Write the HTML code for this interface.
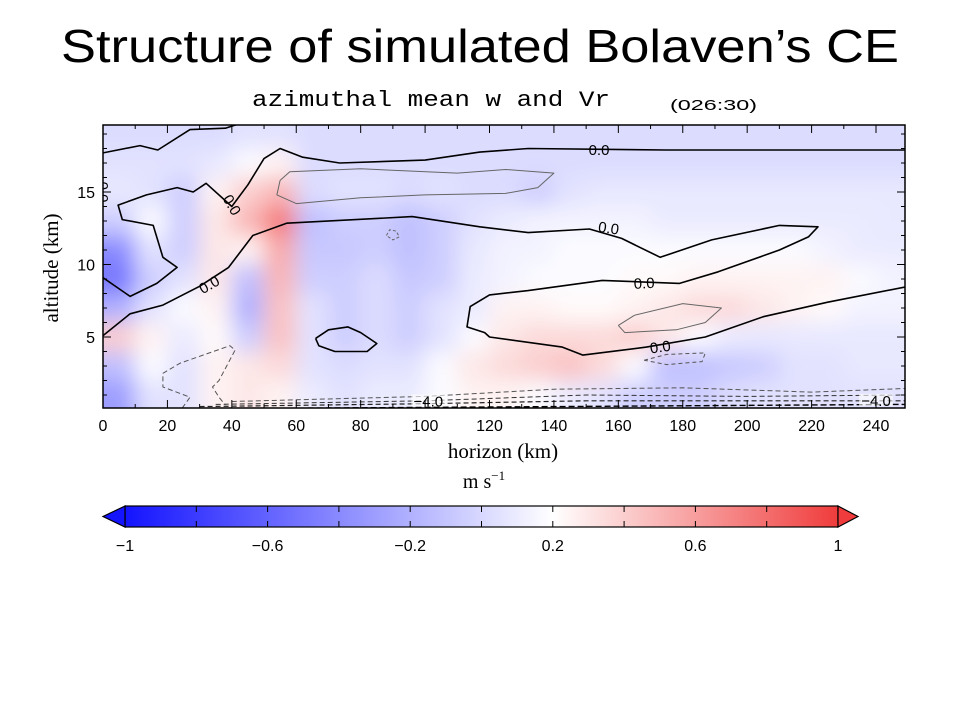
<!DOCTYPE html>
<html><head><meta charset="utf-8"><style>
html,body{margin:0;padding:0;background:#fff;}
svg{display:block;}
.tk{font-family:"Liberation Sans",sans-serif;font-size:16px;fill:#000;}
.lab{font-family:"Liberation Serif",serif;fill:#000;}
.cl{font-family:"Liberation Sans",sans-serif;font-size:15px;fill:#000;}
</style></head><body>
<svg id="root" width="960" height="720" viewBox="0 0 960 720">
<text x="480" y="62" text-anchor="middle" font-family="Liberation Sans, sans-serif" font-size="46" textLength="838" lengthAdjust="spacingAndGlyphs">Structure of simulated Bolaven’s CE</text>
<text x="252" y="106" font-family="Liberation Mono, monospace" font-size="22" textLength="358" lengthAdjust="spacingAndGlyphs">azimuthal mean w and Vr</text>
<text x="670" y="110" font-family="Liberation Sans, sans-serif" font-size="15" textLength="87" lengthAdjust="spacingAndGlyphs">(026:30)</text>
<defs>
<clipPath id="pc"><rect x="103" y="125" width="802" height="283"/></clipPath>
<filter id="bl" x="-20%" y="-20%" width="140%" height="140%"><feGaussianBlur stdDeviation="11"/></filter>
<linearGradient id="cg" x1="0" x2="1" y1="0" y2="0">
<stop offset="0" stop-color="rgb(20,20,255)"/>
<stop offset="0.6" stop-color="rgb(255,255,255)"/>
<stop offset="1" stop-color="rgb(240,60,60)"/>
</linearGradient>
</defs>
<g id="heat" clip-path="url(#pc)"></g>
<g id="contours" clip-path="url(#pc)"></g>
<rect x="103" y="125" width="802" height="283" fill="none" stroke="#000" stroke-width="1.5"/>
<g id="axes"></g>
<text class="lab" x="0" y="0" font-size="21" text-anchor="middle" transform="translate(58,268) rotate(-90)">altitude (km)</text>
<text class="lab" x="503" y="458" font-size="21" text-anchor="middle">horizon (km)</text>
<text class="lab" x="484" y="488" font-size="20" text-anchor="middle">m s<tspan font-size="13" dy="-8">−1</tspan></text>
<g id="cbar"></g>
</svg>
<script>
var xTicks=[0,20,40,60,80,100,120,140,160,180,200,220,240];
var yTicks=[5,10,15];
var cbTicks=[-1,-0.6,-0.2,0.2,0.6,1];
var cbTickLabels=["−1","−0.6","−0.2","0.2","0.6","1"];
var colStarts=[0,10,20,30,40,50,60,70,80,90,100,110,120,130,140,150,160,170,180,190,200,210,220,230,240];
var rowTops=[20,18,16,14,12,10,8,6,4,2];
var w0=[0.02,0.02,0.02,0.02,0.05,0.05,0.02,0.02,0.02,0.02,0.02,0.02,0.02,0.02,0.02,0.02,0.02,0.02,0.02,0.02,0.02,0.02,0.02,0.02,0.02];
var w1=[0.05,0.05,0.05,0.08,0.18,0.25,0.02,0.02,0.02,0.02,0.02,0.02,0.02,0.02,0.02,0.02,0.02,0.02,0.02,0.02,0.02,0.02,0.02,0.02,0.02];
var w2=[0.08,0.05,-0.05,0.25,0.4,0.5,0.02,0.05,0.05,0.02,0.05,0.02,0.02,-0.05,0.05,0.08,0.08,0.08,0.08,0.08,0.08,0.08,0.08,0.08,0.08];
var w3=[-0.05,0.18,-0.05,0.3,0.5,0.75,-0.12,-0.05,-0.05,-0.12,-0.05,0.05,0.1,0.14,0.14,0.14,0.14,0.1,0.1,0.1,0.1,0.1,0.1,0.1,0.08];
var w4=[-0.4,0.05,-0.05,0.3,0.25,0.55,-0.08,-0.08,-0.05,-0.12,-0.05,0.08,0.14,0.14,0.18,0.18,0.18,0.18,0.18,0.18,0.18,0.18,0.14,0.1,0.1];
var w5=[-0.5,-0.05,0.05,0.3,-0.12,0.5,-0.05,-0.05,0.02,-0.08,-0.05,0.1,0.14,0.18,0.18,0.18,0.22,0.22,0.25,0.25,0.25,0.25,0.25,0.18,0.14];
var w6=[-0.2,0.05,0.18,0.25,-0.2,0.45,0.05,-0.05,0.02,-0.05,0.05,0.1,0.25,0.25,0.22,0.22,0.25,0.3,0.35,0.35,0.3,0.25,0.22,0.14,0.14];
var w7=[0.4,0.25,0.1,0.22,-0.05,0.45,0.05,-0.05,0.02,-0.05,0.05,0.18,0.3,0.35,0.35,0.35,0.4,0.3,0.18,0.1,0.08,0.08,0.08,0.08,0.08];
var w8=[-0.12,0.18,0.05,0.25,0.3,0.35,0.05,0.02,0.05,0.05,0.18,0.3,0.35,0.4,0.45,0.35,0.18,-0.12,-0.12,-0.08,-0.05,0.05,0.05,0.08,0.08];
var w9=[-0.3,0.05,0.05,0.25,0.3,0.25,0.1,0.05,0.1,0.1,0.18,0.25,0.25,0.18,0.1,0.05,-0.05,-0.05,-0.05,0.02,0.05,0.05,0.05,0.05,0.05];
var wRows=[w0,w1,w2,w3,w4,w5,w6,w7,w8,w9];
// contours (km, altitude)
var cA=[[0,17.7],[11.5,18.2],[17,17.9],[27,19.3],[38,19.4],[45,19.9]];
var cB=[[0,9.1],[8.4,7.8],[16.7,8.7],[23,9.8],[18.6,10.5],[15.6,12.7],[6,13.1],[4.7,14.1],[13.5,14.8],[23,15.3],[28,15.0],[32,15.6],[40,14.0],[45,15.5],[50,17.3],[55,18.0],[62,17.4],[73.5,17.0],[100,17.2],[117,17.75],[132,18.0],[175,17.9],[249,17.9]];
var cC=[[0,5.1],[8.4,6.6],[18.6,7.2],[30,8.5],[39,9.8],[46.5,12.0],[57,12.85],[96,13.3],[117,12.6],[132,12.2],[151,12.45],[161,11.8],[173,10.5],[189,11.7],[210,12.7],[222,12.6],[219,11.9],[210,11.0],[191,9.5],[179,8.7],[155,8.9],[132,8.2],[120,7.9],[114,7.1],[113,5.7],[118.5,5.3],[120,5.0],[142.6,4.3],[149,3.75],[168.7,4.3],[187,5.0],[205,6.4],[225,7.4],[249,8.45]];
var cD=[[66,4.9],[70,5.5],[76,5.7],[80,5.3],[85,4.55],[82,4.0],[72,4.0],[67,4.4],[66,4.9]];
var cE=[[55,15.8],[58,16.4],[80,16.6],[110,16.3],[125,16.55],[140,16.3],[135,15.3],[125,14.9],[100,14.8],[80,14.6],[60,14.2],[54,14.8],[55,15.8]];
var cF=[[160,5.8],[165,6.5],[180,7.3],[192,7.0],[187,6.0],[178,5.5],[162,5.3],[160,5.8]];
var cG=[[88,12.0],[89,12.4],[91,12.3],[92,11.9],[90,11.7],[88,12.0]];
var cH=[[168,3.4],[175,3.8],[187,3.9],[186,3.3],[175,3.1],[168,3.4]];
var cI=[[24.6,0.1],[27,0.85],[18.6,1.55],[18.6,2.5],[24,3.2],[39.4,4.4],[41,4.1],[36,2.0],[34,1.55],[36,0.85],[38,0.3]];
var cJ=[[40,0.55],[100,0.9],[140,1.4],[180,1.5],[220,1.2],[249,1.45]];
var cK=[[35,0.35],[100,0.6],[150,1.0],[200,0.9],[249,1.0]];
var cL=[[30,0.2],[100,0.4],[150,0.6],[249,0.6]];
var cM=[[30,0.05],[249,0.35]];
var labels00=[[154,17.9,0],[157,12.5,8],[168,8.7,-3],[173,4.3,-8],[33,8.6,-30],[40,14.1,60],[0,15,90]];
var labels40=[[101,0.55],[240,0.6]];

var NS='http://www.w3.org/2000/svg';
function xs(k){return 103+k*(802/249);}
function ys(a){return 409.5-a*14.5;}
function col(v){v=Math.max(-1,Math.min(1,v));var r,g,b;
 if(v<=0.2){var t=(v+1)/1.2;r=g=Math.round(20+235*t);b=255;}
 else{var t=(v-0.2)/0.8;r=Math.round(255-15*t);g=b=Math.round(255-195*t);}
 return 'rgb('+r+','+g+','+b+')';}
function mk(tag,attrs,parent){var e=document.createElementNS(NS,tag);for(var k in attrs)e.setAttribute(k,attrs[k]);parent.appendChild(e);return e;}

// heatmap
var heat=document.getElementById('heat');
var hg=mk('g',{filter:'url(#bl)'},heat);
for(var i=0;i<rowTops.length;i++){for(var j=0;j<colStarts.length;j++){
 var x0=xs(colStarts[j]),x1=xs(colStarts[j]+10),y0=ys(rowTops[i]),y1=ys(rowTops[i]-2);
 if(j===0)x0-=30; if(j===colStarts.length-1)x1+=30; if(i===0)y0-=30; if(i===rowTops.length-1)y1+=30;
 var r=mk('rect',{x:x0,y:y0,width:x1-x0+0.5,height:y1-y0+0.5,fill:col(wRows[i][j])},hg);
 
 
}}

// contours
var cg=document.getElementById('contours');
function pth(pts,stroke,sw,dash,name){var d='';for(var i=0;i<pts.length;i++){d+=(i?'L':'M')+xs(pts[i][0]).toFixed(1)+' '+ys(pts[i][1]).toFixed(1);}
 var p=mk('path',{d:d,fill:'none',stroke:stroke,'stroke-width':sw,'stroke-linejoin':'round'},cg);
 if(dash)p.setAttribute('stroke-dasharray',dash);
 
 }
pth(cA,'#000',1.6,null,'contour-zero-top');
pth(cB,'#000',1.6,null,'contour-zero-upper');
pth(cC,'#000',1.6,null,'contour-zero-lower');
pth(cD,'#000',1.6,null,'contour-zero-loop');
pth(cE,'#666',1,null,'contour-positive-upper');
pth(cF,'#666',1,null,'contour-positive-lower');
pth(cG,'#666',1,'3,2','contour-negative-small');
pth(cH,'#555',1,'4,3','contour-negative-right');
pth(cI,'#555',1,'5,3','contour-negative-left');
pth(cJ,'#555',1,'5,3','contour-negative-band-1');
pth(cK,'#333',1,'5,3','contour-negative-band-2');
pth(cL,'#222',1.2,'5,3','contour-negative-band-3');
pth(cM,'#000',1.4,'6,3','contour-negative-band-4');
labels00.forEach(function(l){
 var x=xs(l[0]),y=ys(l[1]);
 var t=mk('text',{x:x,y:y+5,'text-anchor':'middle',class:'cl',transform:'rotate('+l[2]+' '+x+' '+y+')'},cg);
 t.textContent='0.0';
 
 
});
labels40.forEach(function(l){
 var x=xs(l[0]),y=ys(l[1]);
 mk('rect',{x:x-17,y:y-7,width:34,height:12,fill:'rgba(255,255,255,0.6)'},cg);
 var t=mk('text',{x:x,y:y+5,'text-anchor':'middle',class:'cl'},cg);
 t.textContent='−4.0';
 
 
});

// axes
var ax=document.getElementById('axes');
for(var k=0;k<=249;k+=10){var maj=(k%20===0),L=maj?8:4,x=xs(k);
 mk('line',{x1:x,x2:x,y1:408,y2:408-L,stroke:'#000','stroke-width':1},ax);
 mk('line',{x1:x,x2:x,y1:125,y2:125+L,stroke:'#000','stroke-width':1},ax);}
xTicks.forEach(function(k){var t=mk('text',{x:xs(k),y:431,'text-anchor':'middle',class:'tk'},ax);t.textContent=k;
 
 });
for(var a=1;a<=19;a++){var maj=(a%5===0),L=maj?8:4,y=ys(a);
 mk('line',{x1:103,x2:103+L,y1:y,y2:y,stroke:'#000','stroke-width':1},ax);
 mk('line',{x1:905,x2:905-L,y1:y,y2:y,stroke:'#000','stroke-width':1},ax);}
yTicks.forEach(function(a){var t=mk('text',{x:95,y:ys(a)+6,'text-anchor':'end',class:'tk'},ax);t.textContent=a;
 
 });

// colorbar
var cb=document.getElementById('cbar');
function cx(v){return 125+(v+1)*(713/2);}
mk('rect',{x:125,y:506,width:713,height:21,fill:'url(#cg)',stroke:'#000','stroke-width':1.2},cb);
mk('polygon',{points:'125,506 103,516.5 125,527',fill:'rgb(20,20,255)',stroke:'#000','stroke-width':1.2},cb);
mk('polygon',{points:'838,506 858,516.5 838,527',fill:'rgb(240,60,60)',stroke:'#000','stroke-width':1.2},cb);
for(var q=-0.8;q<0.9;q+=0.2){var x=cx(q);
 mk('line',{x1:x,x2:x,y1:506,y2:512,stroke:'#000','stroke-width':1},cb);
 mk('line',{x1:x,x2:x,y1:521,y2:527,stroke:'#000','stroke-width':1},cb);}
cbTicks.forEach(function(v,i){var t=mk('text',{x:cx(v),y:551,'text-anchor':'middle',class:'tk'},cb);t.textContent=cbTickLabels[i];
 
 });
</script>
</body></html>
